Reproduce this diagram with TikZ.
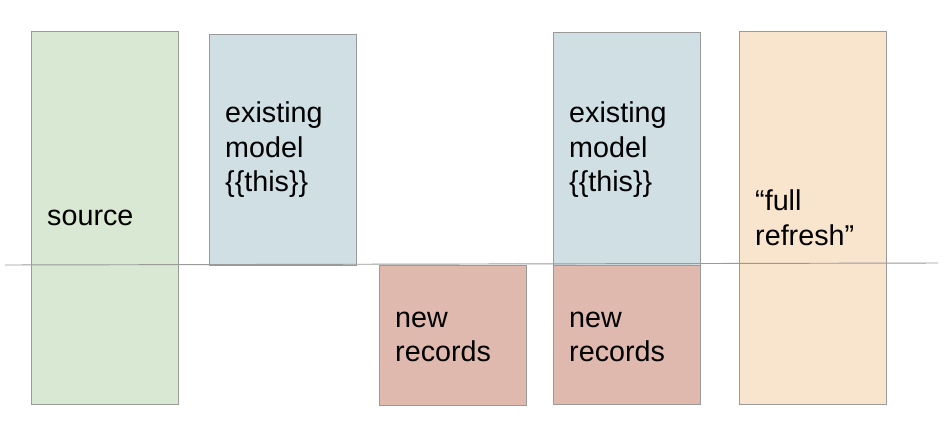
\documentclass[tikz,border=0pt]{standalone}
\usepackage{fontspec}
\setmainfont{Liberation Sans}
\usepackage{tikz}
\usetikzlibrary{positioning}
\definecolor{srcgreen}{HTML}{D9E8D3}
\definecolor{modelblue}{HTML}{D0DFE3}
\definecolor{newred}{HTML}{E0B9AE}
\definecolor{fullorange}{HTML}{F9E4CD}
\definecolor{edgegray}{HTML}{9A9A9A}
\begin{document}
\begin{tikzpicture}[x=0.03cm,y=-0.03cm]
        % Define node styles
        \tikzset{block/.style={draw=edgegray, line width=0.8pt, rectangle, anchor=north west, inner sep=0pt, minimum width=4.41cm},
                 label/.style={anchor=west, align=left, inner sep=0pt, font=\fontsize{24.5}{29.5}\selectfont}}
        \useasboundingbox (0,0) rectangle (950,441);

        % Draw the blocks
        \node[block, fill=srcgreen, minimum height=11.19cm] (source) at (31,31) {};
        \node[block, fill=modelblue, minimum height=6.93cm] (model1) at (209,34) {};
        \node[block, fill=newred, minimum height=4.2cm] (new1) at (379,265) {};
        \node[block, fill=modelblue, minimum height=6.99cm] (model2) at (553,32) {};
        \node[block, fill=newred, minimum height=4.17cm] (new2) at (553,265) {};
        \node[block, fill=fullorange, minimum height=11.19cm] (full) at (739,31) {};

        % Texts
        \node[label] (tsource) at (47,218) {source};
        \node[label] (tmodel1) at (225,150) {existing\\model\\\{\{this\}\}};
        \node[label] (tnew1) at (395,337) {new\\records};
        \node[label] (tmodel2) at (569,150) {existing\\model\\\{\{this\}\}};
        \node[label] (tnew2) at (569,337) {new\\records};
        \node[label] (tfull) at (755,218) {“full\\refresh”};

        % Baseline
        \coordinate (left) at (5,265);
        \coordinate (right) at (938,263);
        \draw[edgegray, line width=0.8pt] (left) -- (right);
    \end{tikzpicture}
\end{document}
